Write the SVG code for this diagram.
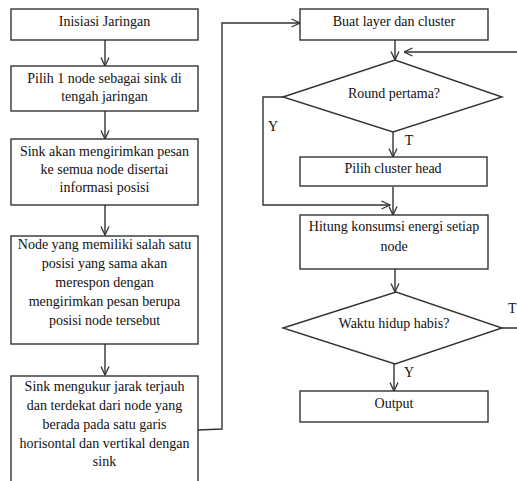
<svg xmlns="http://www.w3.org/2000/svg" width="517" height="481" viewBox="0 0 517 481">
<style>
.box{fill:#fff;stroke:#333;stroke-width:1.4}
.ln{fill:none;stroke:#333;stroke-width:1.4}
text{font-family:'Liberation Serif','Times New Roman',serif;font-size:14px;fill:#111;text-anchor:middle;dominant-baseline:central}
</style>
<defs>
<marker id="ah" viewBox="0 0 10 10" refX="9.5" refY="5" markerWidth="10" markerHeight="10" markerUnits="userSpaceOnUse" orient="auto">
<path d="M1,1 L9.5,5 L1,9" fill="none" stroke="#333" stroke-width="1.3"/>
</marker>
</defs>
<rect width="517" height="481" fill="#fff"/>
<g id="connectors">
<path class="ln" d="M105,40 V66" marker-end="url(#ah)"/>
<path class="ln" d="M105,111 V139" marker-end="url(#ah)"/>
<path class="ln" d="M105,205 V235" marker-end="url(#ah)"/>
<path class="ln" d="M105,344 V375" marker-end="url(#ah)"/>
<path class="ln" d="M198,430 L222,429 V23 H300" marker-end="url(#ah)"/>
<path class="ln" d="M395,40 V60" marker-end="url(#ah)"/>
<path class="ln" d="M393,132 V157" marker-end="url(#ah)"/>
<path class="ln" d="M393,187 V215" marker-end="url(#ah)"/>
<path class="ln" d="M283,97 H263 V205 H390" marker-end="url(#ah)"/>
<path class="ln" d="M395,269 V292" marker-end="url(#ah)"/>
<path class="ln" d="M394,364 V391" marker-end="url(#ah)"/>
<path class="ln" d="M502,328 H530 V52 H404" marker-end="url(#ah)"/>
<text x="273" y="126">Y</text>
<text x="409" y="140">T</text>
<text x="409" y="372">Y</text>
<text x="508" y="308" style="text-anchor:start">T</text>
</g>
<g id="n1"><rect class="box" x="11" y="9" width="187" height="31"/><text x="104.5" y="21">Inisiasi Jaringan</text></g>
<g id="n2"><rect class="box" x="11" y="66" width="187" height="45"/><text x="104.5" y="78">Pilih 1 node sebagai sink di</text><text x="104.5" y="96">tengah jaringan</text></g>
<g id="n3"><rect class="box" x="11" y="139" width="187" height="66"/><text x="104.5" y="151">Sink akan mengirimkan pesan</text><text x="104.5" y="169">ke semua node disertai</text><text x="104.5" y="187">informasi posisi</text></g>
<g id="n4"><rect class="box" x="11" y="236" width="187" height="108"/><text x="104.5" y="244">Node yang memiliki salah satu</text><text x="104.5" y="263">posisi yang sama akan</text><text x="104.5" y="282">merespon dengan</text><text x="104.5" y="301">mengirimkan pesan berupa</text><text x="104.5" y="320">posisi node tersebut</text></g>
<g id="n5"><rect class="box" x="11" y="376" width="187" height="120"/><text x="104.5" y="386">Sink mengukur jarak terjauh</text><text x="104.5" y="405">dan terdekat dari node yang</text><text x="104.5" y="424">berada pada satu garis</text><text x="104.5" y="443">horisontal dan vertikal dengan</text><text x="104.5" y="461">sink</text></g>
<g id="n6"><rect class="box" x="300" y="9" width="188" height="31"/><text x="394" y="21">Buat layer dan cluster</text></g>
<g id="n7"><polygon class="box" points="283,97 395,60 502,97 393,132"/><text x="394" y="93">Round pertama?</text></g>
<g id="n8"><rect class="box" x="300" y="157" width="187" height="29"/><text x="393" y="168">Pilih cluster head</text></g>
<g id="n9"><rect class="box" x="300" y="215" width="188" height="54"/><text x="394" y="226">Hitung konsumsi energi setiap</text><text x="394" y="246">node</text></g>
<g id="n10"><polygon class="box" points="283,328 396,292 502,328 395,364"/><text x="394" y="323">Waktu hidup habis?</text></g>
<g id="n11"><rect class="box" x="300" y="391" width="188" height="31"/><text x="394" y="403">Output</text></g>
</svg>
